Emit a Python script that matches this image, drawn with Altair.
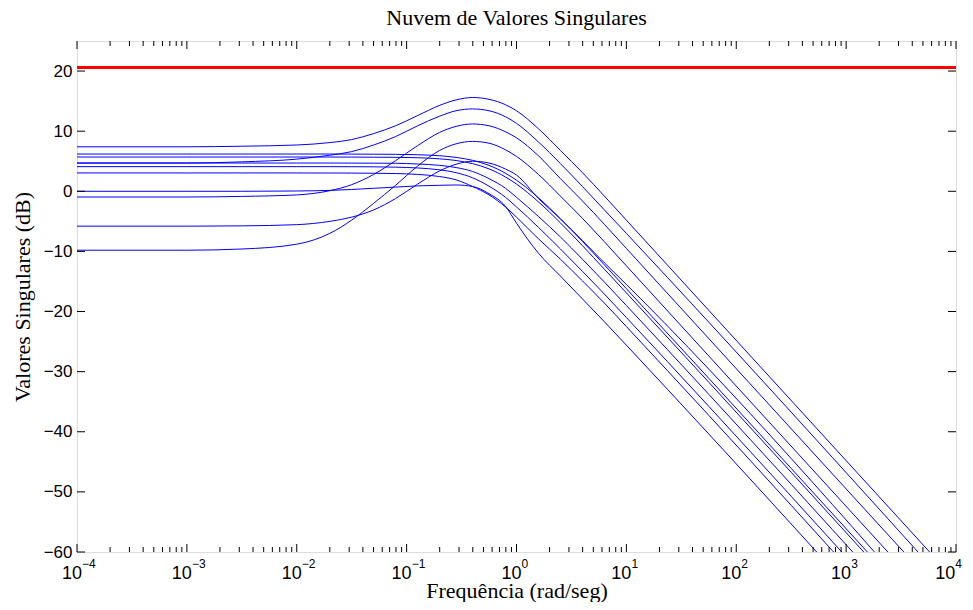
import altair as alt
import pandas as pd

FREQ = [1e-4, 1e-3, 0.00316, 0.01, 0.02, 0.0316, 0.0501, 0.0794, 0.126, 0.2,
        0.282, 0.398, 0.562, 0.794, 1.0, 1.585, 2.512, 3.981, 6.31, 10.0, 1e4]

# singular values (dB)
SV_A = [7.4, 7.4, 7.5, 7.7, 8.1, 8.6, 9.6, 10.9, 12.6, 14.3, 15.2, 15.6, 15.3, 14.4, 13.4, 10.4, 6.8, 3.1, -0.8, -4.8, -64.8]
SV_B = [4.7, 4.7, 4.9, 5.35, 6.0, 6.6, 7.7, 9.1, 10.9, 12.5, 13.4, 13.7, 13.4, 12.4, 11.3, 8.2, 4.6, 0.8, -3.1, -7.0, -67.0]
SV_C = [-0.95, -0.95, -0.85, -0.6, 0.1, 1.1, 2.8, 5.1, 7.6, 9.8, 10.8, 11.2, 10.9, 9.9, 8.9, 5.9, 2.1, -1.6, -5.5, -9.5, -69.5]
SV_D = [-9.8, -9.8, -9.6, -8.8, -7.0, -4.8, -2.0, 1.0, 4.2, 6.8, 7.9, 8.3, 8.0, 6.9, 5.8, 2.8, -0.8, -4.5, -8.4, -12.4, -72.4]
SV_E = [-5.8, -5.8, -5.75, -5.55, -5.0, -4.3, -3.1, -1.2, 1.2, 3.4, 4.5, 5.0, 4.7, 3.7, 2.7, -1.2, -4.6, -8.2, -11.9, -15.5, -75.5]
SV_F = [6.2, 6.2, 6.2, 6.2, 6.2, 6.19, 6.17, 6.15, 6.08, 5.91, 5.64, 5.15, 4.31, 3.0, 1.84, -1.08, -4.57, -8.33, -12.24, -16.2, -76.2]
SV_G = [5.7, 5.7, 5.7, 5.7, 5.7, 5.69, 5.67, 5.65, 5.58, 5.40, 5.12, 4.60, 3.73, 2.38, 1.20, -1.76, -5.26, -9.04, -12.96, -16.9, -76.9]
SV_H = [4.7, 4.7, 4.7, 4.7, 4.7, 4.69, 4.68, 4.66, 4.54, 4.31, 3.95, 3.3, 2.1, 0.5, -1.0, -4.2, -7.6, -11.3, -15.1, -19.0, -79.0]
SV_I = [4.1, 4.1, 4.1, 4.1, 4.1, 4.09, 4.07, 4.01, 3.88, 3.57, 3.1, 2.25, 0.85, -1.0, -2.6, -6.0, -9.6, -13.3, -17.1, -21.0, -81.0]
SV_J = [3.05, 3.05, 3.05, 3.05, 3.04, 3.03, 3.0, 2.95, 2.81, 2.45, 1.9, 0.8, -0.6, -2.6, -4.3, -7.9, -11.3, -14.9, -18.6, -22.5, -82.5]
SV_K = [0.0, 0.0, 0.0, 0.05, 0.15, 0.3, 0.5, 0.7, 0.9, 1.0, 1.05, 0.8, -0.4, -2.5, -5.3, -10.3, -14.1, -17.9, -21.7, -25.6, -85.6]

CURVES = {"A": SV_A, "B": SV_B, "C": SV_C, "D": SV_D, "E": SV_E, "F": SV_F,
          "G": SV_G, "H": SV_H, "I": SV_I, "J": SV_J, "K": SV_K}

BOUND_DB = [20.6]          # red horizontal bound

X_TICKS = [1e-4, 1e-3, 1e-2, 1e-1, 1e0, 1e1, 1e2, 1e3, 1e4]
X_BASE = ["10"] * 9
X_EXP = ["\u22124", "\u22123", "\u22122", "\u22121", "0", "1", "2", "3", "4"]
X_MINOR = [m * d for d in X_TICKS[:-1] for m in range(2, 10)]
Y_TICKS = [-60, -50, -40, -30, -20, -10, 0, 10, 20]

TITLE = "Nuvem de Valores Singulares"
X_TITLE = "Frequência (rad/seg)"
Y_TITLE = "Valores Singulares (dB)"

W, H = 879, 511
SERIF = "Liberation Serif"
SANS = "Liberation Sans"

rows = []
for name, vals in CURVES.items():
    for f, v in zip(FREQ, vals):
        rows.append({"curve": name, "f": f, "v": v})
df = pd.DataFrame(rows)

xs = alt.Scale(type="log", domain=[1e-4, 1e4], nice=False)
ys = alt.Scale(domain=[-60, 25], nice=False, zero=False)

x_axis = alt.Axis(values=X_TICKS, labels=False, title=X_TITLE, grid=False,
                  ticks=False, domain=False,
                  titleFont=SERIF, titleFontSize=22, titleFontWeight="normal",
                  titleColor="black", titleY=45, titleBaseline="alphabetic")
y_axis = alt.Axis(values=Y_TICKS, title=Y_TITLE, grid=False, ticks=False, domain=False,
                  labelFont=SANS, labelFontSize=17, labelColor="black", labelPadding=5,
                  titleFont=SERIF, titleFontSize=22, titleFontWeight="normal",
                  titleColor="black", titlePadding=9)

lines = alt.Chart(df).mark_line(color="#0000ff", strokeWidth=1, clip=True,
                                interpolate="monotone").encode(
    x=alt.X("f:Q", scale=xs, axis=x_axis),
    y=alt.Y("v:Q", scale=ys, axis=y_axis),
    detail="curve:N",
)

bound = alt.Chart(pd.DataFrame({"v": BOUND_DB})).mark_rule(color="#ff0000", strokeWidth=3).encode(
    y=alt.Y("v:Q", scale=ys),
    x=alt.value(0), x2=alt.value(W),
)

xt = pd.DataFrame({"f": X_TICKS, "base": X_BASE, "exp": X_EXP})
xm = pd.DataFrame({"f": X_MINOR})
yt = pd.DataFrame({"v": Y_TICKS})
tick_style = dict(color="black", strokeWidth=1)

xt_bot = alt.Chart(xt).mark_rule(**tick_style).encode(x=alt.X("f:Q", scale=xs), y=alt.value(H), y2=alt.value(H - 8))
xt_top = alt.Chart(xt).mark_rule(**tick_style).encode(x=alt.X("f:Q", scale=xs), y=alt.value(0), y2=alt.value(8))
xm_bot = alt.Chart(xm).mark_rule(**tick_style).encode(x=alt.X("f:Q", scale=xs), y=alt.value(H), y2=alt.value(H - 5))
xm_top = alt.Chart(xm).mark_rule(**tick_style).encode(x=alt.X("f:Q", scale=xs), y=alt.value(0), y2=alt.value(5))
yt_left = alt.Chart(yt).mark_rule(**tick_style).encode(y=alt.Y("v:Q", scale=ys), x=alt.value(0), x2=alt.value(8))
yt_right = alt.Chart(yt).mark_rule(**tick_style).encode(y=alt.Y("v:Q", scale=ys), x=alt.value(W - 8), x2=alt.value(W))

# tick labels: the last one is pulled slightly inwards so it stays inside the page
labels = alt.Chart(xt).transform_calculate(
    fl="datum.f > 5000 ? datum.f / 1.13 : datum.f")
xl_base = labels.mark_text(align="right", baseline="alphabetic", dx=5, font=SANS,
                           fontSize=18, color="black").encode(
    x=alt.X("fl:Q", scale=xs), y=alt.value(H + 27), text="base:N")
xl_exp = labels.mark_text(align="left", baseline="alphabetic", dx=5, font=SANS,
                          fontSize=12, color="black").encode(
    x=alt.X("fl:Q", scale=xs), y=alt.value(H + 16), text="exp:N")

chart = alt.layer(lines, bound, xt_bot, xt_top, xm_bot, xm_top, yt_left, yt_right,
                  xl_base, xl_exp).properties(
    width=W, height=H,
    title=alt.TitleParams(TITLE, font=SERIF, fontSize=22, fontWeight="normal", color="black",
                          anchor="middle", offset=11),
    autosize=alt.AutoSizeParams(type="none"),
    padding={"left": 69, "top": 33, "right": 9, "bottom": 50},
).configure_view(stroke="black", strokeWidth=1).configure(background="white")

chart.save("out.html", embed_options={"renderer": "svg", "actions": False})
